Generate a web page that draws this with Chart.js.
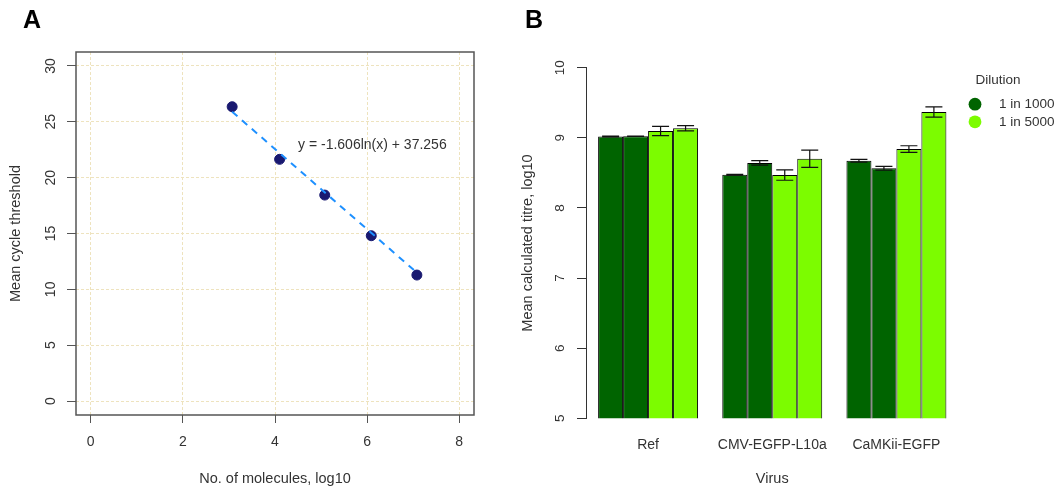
<!DOCTYPE html>
<html><head><meta charset="utf-8">
<script src="https://cdn.jsdelivr.net/npm/chart.js@4/dist/chart.umd.min.js"></script>
<style>
html,body{margin:0;padding:0;background:#fff;width:1057px;height:492px;overflow:hidden;}
#wrap{position:relative;width:1057px;height:492px;}
.panel{position:absolute;top:0;height:492px;}
#pa{left:0;width:500px;}
#pb{left:510px;width:547px;}
.lab{position:absolute;font:bold 25px "Liberation Sans",Arial,sans-serif;line-height:25px;color:#000;top:7px;}
</style></head>
<body><div id="wrap">
<div class="panel" id="pa"><canvas id="ca" width="500" height="492"></canvas></div>
<div class="panel" id="pb"><canvas id="cb" width="547" height="492"></canvas></div>
<div class="lab" style="left:23px">A</div>
<div class="lab" style="left:525px">B</div>
</div>
<script>
// ---- Panel A data ----
const moleculesLog10 = [3.07, 4.10, 5.08, 6.09, 7.08];
const meanCt = [26.35, 21.64, 18.44, 14.80, 11.28];
const trendX = [3.07, 7.08];
const trendY = [25.9, 11.5];
const equationText = 'y = -1.606ln(x) + 37.256';
const equationAt = {x: 4.5, y: 22.9};
const xTicksA = [0, 2, 4, 6, 8];
const yTicksA = [0, 5, 10, 15, 20, 25, 30];

// ---- Panel B data ----
const viruses = ['Ref', 'CMV-EGFP-L10a', 'CaMKii-EGFP'];
const dil1000a = [9.018, 8.474, 8.672];
const dil1000b = [9.022, 8.642, 8.566];
const dil5000a = [9.097, 8.469, 8.840];
const dil5000b = [9.136, 8.702, 9.368];
const err1000a = [0.006, 0.006, 0.020];
const err1000b = [0.003, 0.032, 0.026];
const err5000a = [0.067, 0.074, 0.047];
const err5000b = [0.037, 0.123, 0.074];
const dilutionLabels = ['1 in 1000', '1 in 5000'];
const yTicksB = [5, 6, 7, 8, 9, 10];

const DARK = '#006400', LIGHT = '#7CFC00', TXT = '#333333', AX = '#555555';
Chart.defaults.font.family = '"Liberation Sans", Arial, Helvetica, sans-serif';
Chart.defaults.color = TXT;

// ---------- Panel A ----------
const boxPlugin = {
  id: 'boxA',
  afterDraw(chart) {
    const a = chart.chartArea, c = chart.ctx;
    c.save(); c.strokeStyle = AX; c.lineWidth = 1.5;
    c.strokeRect(a.left, a.top, a.right - a.left, a.bottom - a.top);
    c.restore();
  }
};
const eqPlugin = {
  id: 'eqA',
  afterDatasetsDraw(chart) {
    const c = chart.ctx;
    const x = chart.scales.x.getPixelForValue(equationAt.x);
    const y = chart.scales.y.getPixelForValue(equationAt.y);
    c.save(); c.fillStyle = TXT; c.font = '14px "Liberation Sans", Arial, sans-serif';
    c.textAlign = 'left'; c.textBaseline = 'middle';
    c.fillText(equationText, x, y); c.restore();
  }
};

const GRIDA = '#EEE3BE';
new Chart(document.getElementById('ca'), {
  type: 'scatter',
  data: {
    datasets: [
      {
        label: 'trend',
        data: trendX.map((x, i) => ({x, y: trendY[i]})),
        showLine: true, borderColor: '#1E90FF', borderWidth: 2,
        borderDash: [7, 6], pointRadius: 0, order: 0
      },
      {
        label: 'Mean Ct',
        data: moleculesLog10.map((x, i) => ({x, y: meanCt[i]})),
        backgroundColor: '#191970', borderColor: '#191970',
        pointRadius: 5, order: 1
      }
    ]
  },
  options: {
    responsive: false, animation: false, devicePixelRatio: 1,
    layout: {padding: {left: 0, top: 52, right: 26, bottom: 0}},
    plugins: {legend: {display: false}, tooltip: {enabled: false}},
    scales: {
      x: {
        type: 'linear', min: -0.32, max: 8.32,
        afterBuildTicks: s => { s.ticks = xTicksA.map(v => ({value: v})); },
        afterFit: s => { s.height = 77; },
        grid: {color: GRIDA, lineWidth: 1, tickColor: AX, tickLength: 8, tickWidth: 1},
        border: {display: false, dash: [3, 2]},
        ticks: {color: TXT, font: {size: 14}, padding: 11, maxRotation: 0},
        title: {display: true, text: 'No. of molecules, log10', color: TXT, font: {size: 14.5}, padding: {top: 0, bottom: 4}}
      },
      y: {
        type: 'linear', min: -1.25, max: 31.25,
        afterBuildTicks: s => { s.ticks = yTicksA.map(v => ({value: v})); },
        afterFit: s => { s.width = 76; },
        grid: {color: GRIDA, lineWidth: 1, tickColor: AX, tickLength: 9, tickWidth: 1},
        border: {display: false, dash: [3, 2]},
        ticks: {color: TXT, font: {size: 14}, padding: 8, minRotation: 90, maxRotation: 90, crossAlign: 'center'},
        title: {display: true, text: 'Mean cycle threshold', color: TXT, font: {size: 14.5}, padding: {top: 7, bottom: 0}}
      }
    }
  },
  plugins: [boxPlugin, eqPlugin]
});

// ---------- Panel B ----------
const errorSets = [err1000a, err1000b, err5000a, err5000b];
const errPlugin = {
  id: 'errB',
  afterDatasetsDraw(chart) {
    const c = chart.ctx, ys = chart.scales.y;
    c.save(); c.strokeStyle = '#111'; c.lineWidth = 1.2;
    chart.data.datasets.forEach((ds, i) => {
      const meta = chart.getDatasetMeta(i);
      meta.data.forEach((el, j) => {
        const v = ds.data[j], e = errorSets[i][j];
        const yt = ys.getPixelForValue(v + e), yb = ys.getPixelForValue(v - e);
        const x = el.x, hw = 8.5;
        c.beginPath();
        c.moveTo(x, yt); c.lineTo(x, yb);
        c.moveTo(x - hw, yt); c.lineTo(x + hw, yt);
        c.moveTo(x - hw, yb); c.lineTo(x + hw, yb);
        c.stroke();
      });
    });
    c.restore();
  }
};
const legendPlugin = {
  id: 'legB',
  afterDraw(chart) {
    const c = chart.ctx, a = chart.chartArea;
    const x0 = a.right + 16.5, y0 = 80.7;
    c.save();
    c.font = '13.5px "Liberation Sans", Arial, sans-serif';
    c.fillStyle = TXT; c.textBaseline = 'middle'; c.textAlign = 'left';
    c.fillText('Dilution', x0 + 0.5, y0);
    const cols = [chart.data.datasets[0].backgroundColor, chart.data.datasets[2].backgroundColor];
    dilutionLabels.forEach((lab, i) => {
      const yy = y0 + 23.5 + i * 17.6;
      c.beginPath(); c.fillStyle = cols[i];
      c.arc(x0, yy, 6.4, 0, Math.PI * 2); c.fill();
      c.fillStyle = TXT; c.fillText(lab, x0 + 24, yy);
    });
    c.restore();
  }
};

const barBase = {borderColor: '#000', borderWidth: 1, categoryPercentage: 0.805, barPercentage: 1.0};
new Chart(document.getElementById('cb'), {
  type: 'bar',
  data: {
    labels: viruses,
    datasets: [
      Object.assign({label: dilutionLabels[0], data: dil1000a, backgroundColor: DARK}, barBase),
      Object.assign({label: dilutionLabels[0], data: dil1000b, backgroundColor: DARK}, barBase),
      Object.assign({label: dilutionLabels[1], data: dil5000a, backgroundColor: LIGHT}, barBase),
      Object.assign({label: dilutionLabels[1], data: dil5000b, backgroundColor: LIGHT}, barBase)
    ]
  },
  options: {
    responsive: false, animation: false, devicePixelRatio: 1,
    layout: {padding: {left: 0, top: 67.7, right: 98.5, bottom: 0}},
    plugins: {legend: {display: false}, tooltip: {enabled: false}},
    scales: {
      x: {
        grid: {display: false}, border: {display: false},
        afterFit: s => { s.height = 73.7; },
        ticks: {color: TXT, font: {size: 14}, padding: 10, maxRotation: 0},
        title: {display: true, text: 'Virus', color: TXT, font: {size: 14.5}, padding: {top: 0, bottom: 4}}
      },
      y: {
        min: 5, max: 10,
        afterBuildTicks: s => { s.ticks = yTicksB.map(v => ({value: v})); },
        afterFit: s => { s.width = 76; },
        grid: {drawOnChartArea: false, tickLength: 9, tickColor: TXT, tickWidth: 1},
        border: {display: true, color: TXT, width: 1},
        ticks: {color: TXT, font: {size: 13.5}, padding: 9.5, minRotation: 90, maxRotation: 90, crossAlign: 'center'},
        title: {display: true, text: 'Mean calculated titre, log10', color: TXT, font: {size: 14.5}, padding: {top: 9, bottom: 0}}
      }
    }
  },
  plugins: [errPlugin, legendPlugin]
});
</script>
</body></html>
